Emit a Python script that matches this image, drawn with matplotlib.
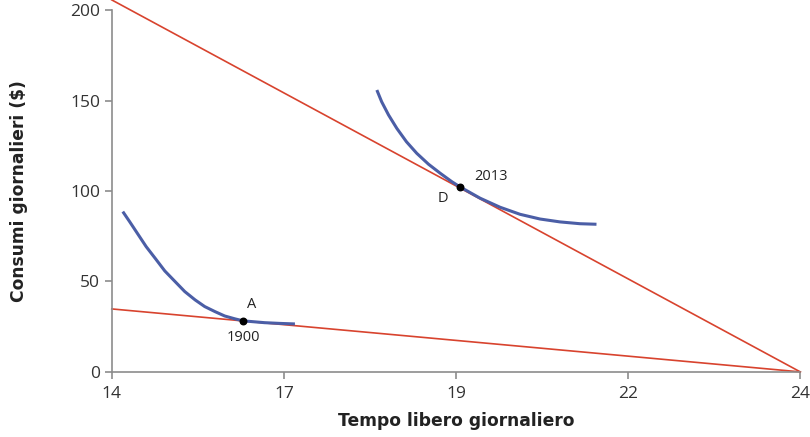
import matplotlib
matplotlib.use("Agg")
import matplotlib.pyplot as plt

# -----------------------------
# data
# -----------------------------
budget_2013_x = [14.0, 24.0]
budget_2013_y = [205.6, 0.0]

budget_1900_x = [14.0, 24.0]
budget_1900_y = [34.8, 0.0]

ic_1900_x = [14.16, 14.26, 14.38, 14.50, 14.63, 14.77, 14.92, 15.06, 15.21, 15.35,
             15.50, 15.64, 15.79, 15.91, 16.22, 16.44, 16.66]
ic_1900_y = [88.6, 83.0, 76.1, 69.2, 62.8, 55.8, 49.9, 44.4, 39.8, 36.1,
             33.3, 30.9, 29.3, 28.2, 27.2, 26.8, 26.5]

ic_2013_x = [17.85, 17.92, 18.02, 18.14, 18.28, 18.43, 18.60, 18.77, 18.94, 19.06,
             19.35, 19.64, 19.93, 20.22, 20.51, 20.80, 21.04]
ic_2013_y = [155.8, 149.3, 142.0, 134.6, 127.2, 120.8, 114.8, 109.8, 105.1, 102.2,
             96.0, 91.0, 87.1, 84.5, 82.9, 81.9, 81.6]

point_names = ["A", "D"]
point_years = ["1900", "2013"]
point_x = [15.91, 19.06]
point_y = [28.2, 102.2]

x_ticks = [14, 16.5, 19, 21.5, 24]
x_tick_labels = ["14", "17", "19", "22", "24"]
y_ticks = [0, 50, 100, 150, 200]

red = "#d8432e"
blue = "#4b5ea6"
grey = "#8c8c8c"

# -----------------------------
# figure
# -----------------------------
fig = plt.figure(figsize=(8.1, 4.37), dpi=100)
ax = fig.add_axes([0.138, 0.149, 0.850, 0.828])

ax.plot(budget_2013_x, budget_2013_y, color=red, lw=1.2, clip_on=False, zorder=2)
ax.plot(budget_1900_x, budget_1900_y, color=red, lw=1.2, clip_on=False, zorder=2)
ax.plot(ic_1900_x, ic_1900_y, color=blue, lw=2.2, solid_capstyle="butt",
        solid_joinstyle="round", zorder=3)
ax.plot(ic_2013_x, ic_2013_y, color=blue, lw=2.2, solid_capstyle="butt",
        solid_joinstyle="round", zorder=3)
ax.scatter(point_x, point_y, s=22, color="black", zorder=5)

# labels next to the points
ax.text(point_x[0] + 0.12, point_y[0] + 5, point_names[0], fontsize=10.5,
        ha="center", va="bottom", family="Open Sans", color="#222222")
ax.text(point_x[0], point_y[0] - 5, point_years[0], fontsize=10.5,
        ha="center", va="top", family="Open Sans", color="#222222")
ax.text(point_x[1] - 0.18, point_y[1] - 2, point_names[1], fontsize=10.5,
        ha="right", va="top", family="Open Sans", color="#222222")
ax.text(point_x[1] + 0.2, point_y[1] + 1.5, point_years[1], fontsize=10.5,
        ha="left", va="bottom", family="Open Sans", color="#222222")

ax.set_xlim(14, 24)
ax.set_ylim(0, 200)
ax.set_xticks(x_ticks)
ax.set_xticklabels(x_tick_labels)
ax.set_yticks(y_ticks)

for side in ["top", "right"]:
    ax.spines[side].set_visible(False)
for side in ["left", "bottom"]:
    ax.spines[side].set_color(grey)
    ax.spines[side].set_linewidth(1.2)

ax.tick_params(axis="both", colors=grey, length=5, width=1.2, labelsize=12.5,
               labelcolor="#333333")
ax.tick_params(axis="x", pad=5)
for lab in ax.get_xticklabels() + ax.get_yticklabels():
    lab.set_family("Open Sans")

ax.set_xlabel("Tempo libero giornaliero", fontsize=12.3, fontweight="bold",
              color="#222222")
ax.set_ylabel("Consumi giornalieri ($)", fontsize=12.3, fontweight="bold",
              color="#222222")
ax.xaxis.set_label_coords(0.5, -0.112)
ax.yaxis.set_label_coords(-0.122, 0.5)

fig.savefig("out.png", dpi=100)
